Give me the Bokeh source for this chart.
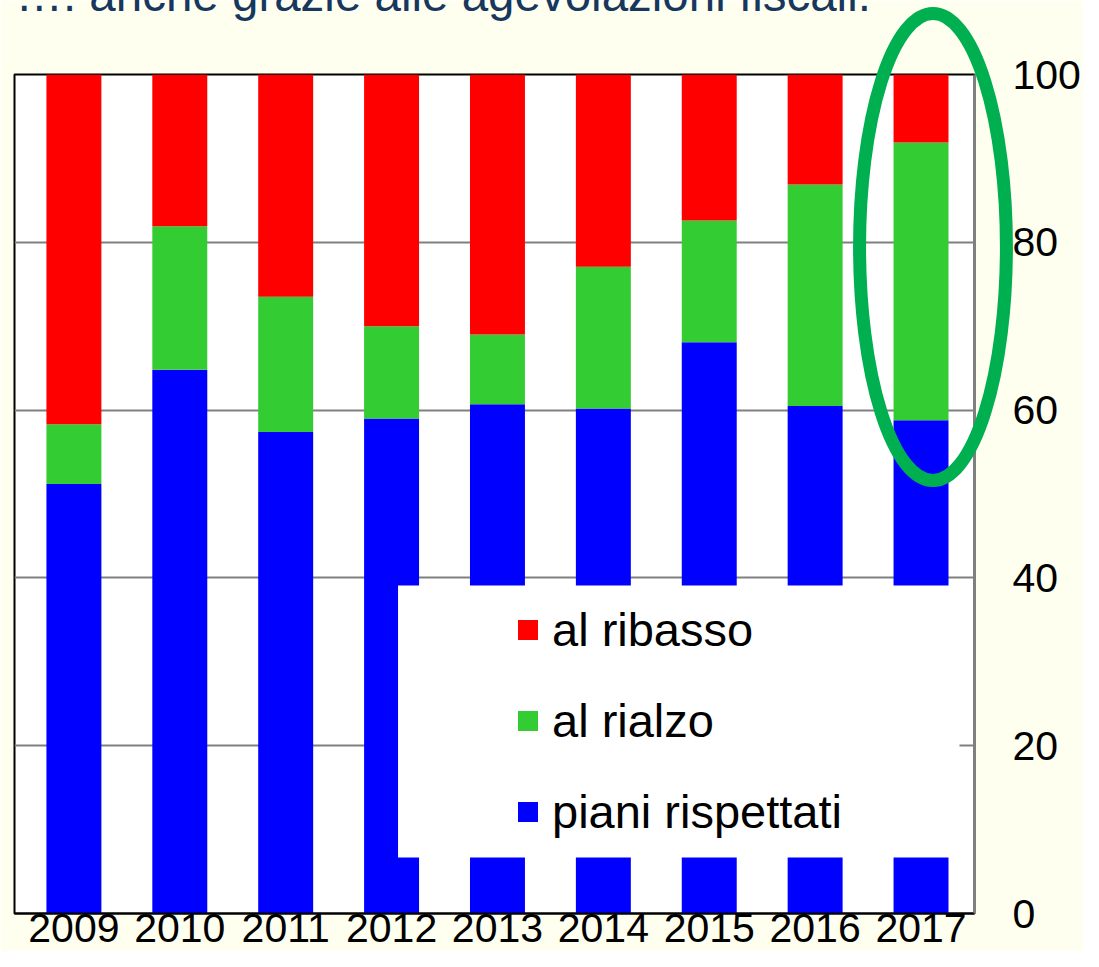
from bokeh.plotting import figure
from bokeh.models import (ColumnDataSource, Range1d, FixedTicker, Legend, LegendItem,
                          BoxAnnotation)
from bokeh.core.properties import value
from bokeh.embed import file_html
from bokeh.resources import INLINE

# ---- data ----
years = ["2009", "2010", "2011", "2012", "2013", "2014", "2015", "2016", "2017"]
piani_rispettati = [51.2, 64.8, 57.4, 59.0, 60.7, 60.2, 68.1, 60.5, 58.8]
al_rialzo = [7.1, 17.1, 16.1, 11.0, 8.3, 16.9, 14.5, 26.4, 33.1]
al_ribasso = [41.7, 18.1, 26.5, 30.0, 31.0, 22.9, 17.4, 13.1, 8.1]
y_ticks = [0, 20, 40, 60, 80, 100]
title_text = "…. anche grazie alle agevolazioni fiscali."

BLUE = "#0000FF"
GREEN = "#33CC33"
RED = "#FF0000"
BG = "#FFFFF0"
FONT = "Liberation Sans"

idx = list(range(len(years)))
src = ColumnDataSource(dict(x=idx, piani=piani_rispettati, rialzo=al_rialzo, ribasso=al_ribasso))

p = figure(width=1083, height=951, x_range=Range1d(-0.561, 8.505), y_range=Range1d(0, 100),
           output_backend="svg", toolbar_location=None, y_axis_location="right",
           min_border_left=14, min_border_right=108, min_border_top=74, min_border_bottom=38)
p.background_fill_color = "white"
p.border_fill_color = BG
p.outline_line_color = "black"
p.outline_line_width = 2

# axes
xa = p.xaxis[0]
xa.ticker = FixedTicker(ticks=idx)
xa.major_label_overrides = {i: y for i, y in zip(idx, years)}
xa.major_label_text_font = FONT
xa.major_label_text_font_size = "41px"
xa.major_label_text_color = "black"
xa.major_label_standoff = 0
xa.major_tick_out = 0
xa.major_tick_in = 0
xa.major_tick_line_color = None
xa.minor_tick_line_color = None
xa.axis_line_color = "black"
xa.axis_line_width = 2

ya = p.yaxis[0]
ya.ticker = FixedTicker(ticks=y_ticks)
ya.major_label_text_font = FONT
ya.major_label_text_font_size = "41px"
ya.major_label_text_color = "black"
ya.major_label_standoff = 38
ya.major_tick_out = 0
ya.major_tick_in = 0
ya.major_tick_line_color = None
ya.minor_tick_line_color = None
ya.axis_line_color = "#808080"
ya.axis_line_width = 2

p.xgrid.visible = False
p.ygrid.ticker = FixedTicker(ticks=y_ticks)
p.ygrid.grid_line_color = "#808080"
p.ygrid.grid_line_width = 2

# bars
rs = p.vbar_stack(["piani", "rialzo", "ribasso"], x="x", width=0.519, source=src,
                  color=[BLUE, GREEN, RED], line_color=None)

# legend background box
box = BoxAnnotation(left=3.061, right=8.363, bottom=6.67, top=39.09,
                    fill_color="white", fill_alpha=1.0, line_color=None)
p.add_layout(box)

legend = Legend(items=[LegendItem(label="al ribasso", renderers=[rs[2]]),
                       LegendItem(label="al rialzo", renderers=[rs[1]]),
                       LegendItem(label="piani rispettati", renderers=[rs[0]])],
                location=(501, 74), padding=0, margin=0, spacing=36,
                glyph_width=25, glyph_height=25, label_standoff=12,
                label_text_font=FONT, label_text_font_size="47px",
                label_text_color="black",
                background_fill_alpha=0, border_line_color=None)
p.add_layout(legend)

# title (partly cut off at the top, as in the reference)
p.text(x=[-0.552], y=[109.5], text=[title_text], text_font=value(FONT),
       text_font_size="47.5px", text_color="#17375E", text_baseline="alphabetic",
       level="overlay")

# highlight ellipse around 2017
p.ellipse(x=8.113, y=79.44, width=1.387, height=55.66, fill_color=None,
          line_color="#00B050", line_width=13, level="overlay")

open("out.html", "w").write(file_html(p, INLINE))
